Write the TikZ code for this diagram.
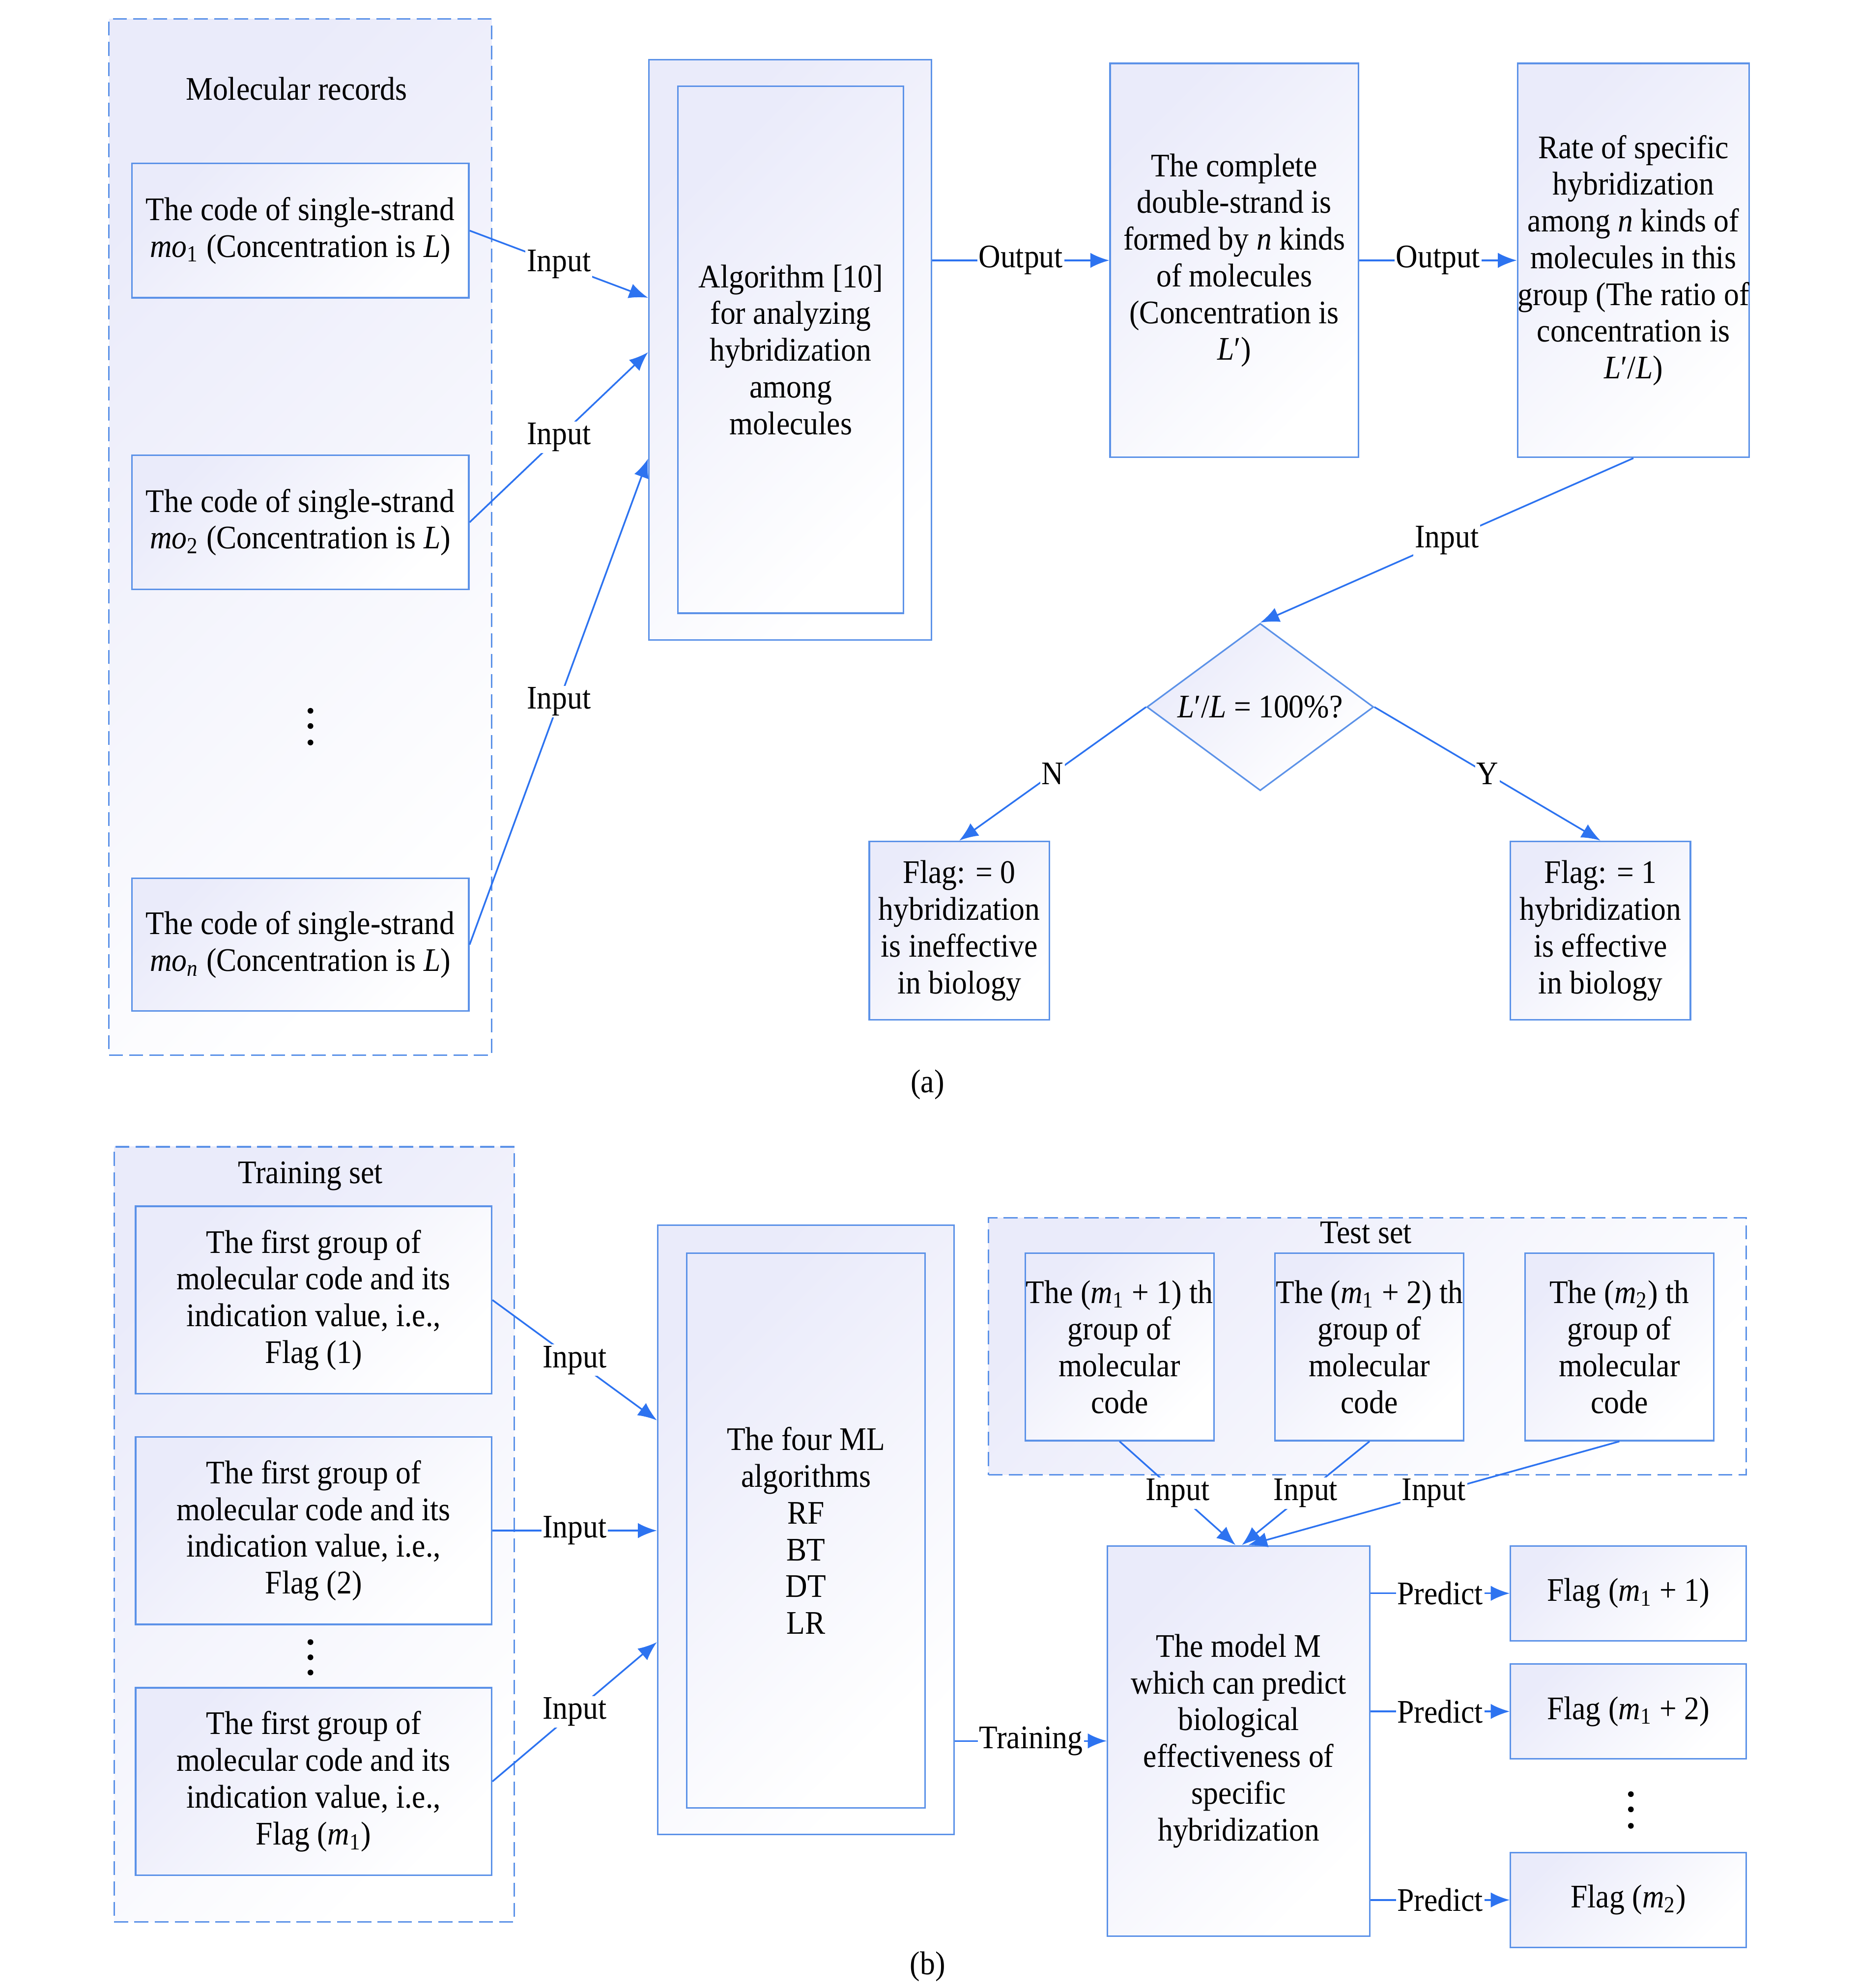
\documentclass[tikz,border=0pt]{standalone}
\usepackage{fontspec}
\setmainfont{Liberation Serif}[FakeStretch=0.92]
\usepackage{xcolor}
\usepackage{tikz}
\usetikzlibrary{positioning,shapes.geometric,arrows.meta}
\definecolor{boxline}{RGB}{92,146,232}
\definecolor{arrowblue}{RGB}{45,115,240}
\definecolor{boxfill}{RGB}{234,235,250}

\begin{document}
\begin{tikzpicture}[x=0.02cm, y=-0.02cm, font={\fontsize{14.8}{16.5}\selectfont}]
            \tikzstyle{groupbox} = [draw=boxline, line width=0.7pt, dash pattern=on 0.22cm off 0.1cm, top color=boxfill, bottom color=white, shading angle=45, inner sep=0]
            \tikzstyle{codebox} = [draw=boxline, line width=0.7pt, top color=boxfill, bottom color=white, shading angle=45, inner sep=0, align=center]
            \tikzstyle{decision} = [codebox, diamond, aspect=1.36]
            \tikzstyle{link} = [draw=arrowblue, line width=0.75pt, -{Latex[length=0.3cm,width=0.24cm]}]
            \tikzstyle{arrowtext} = [fill=white, inner sep=0.6pt, midway]
            \useasboundingbox (0,0) rectangle (1466,1569);

            \node [groupbox, minimum width=6.04cm, minimum height=16.36cm] (records) at (237,424) {};
            \node (recordstitle) at (234,70) {Molecular records};
            \node [codebox, minimum width=5.32cm, minimum height=2.12cm] (mo1) at (237,182) {The code of single-strand\\\textit{mo}\textsubscript{1} (Concentration is \textit{L})};
            \node [codebox, minimum width=5.32cm, minimum height=2.12cm, below = 2.46cm of mo1] (mo2) {The code of single-strand\\\textit{mo}\textsubscript{2} (Concentration is \textit{L})};
            \node [codebox, minimum width=5.32cm, minimum height=2.1cm] (mon) at (237,745.5) {The code of single-strand\\\textit{mo}\textsubscript{\textit{n}} (Concentration is \textit{L})};
            \foreach \y in {561,573,586} \fill (245,\y) circle (0.045cm);

            \node [codebox, minimum width=4.46cm, minimum height=9.16cm] (algo) at (623.5,276) {};
            \node [codebox, minimum width=3.56cm, minimum height=8.32cm] (algoin) at (624,276) {Algorithm [10]\\for analyzing\\hybridization\\among\\molecules};

            \node [codebox, minimum width=3.92cm, minimum height=6.22cm] (comp) at (974,205.5) {The complete\\double-strand is\\formed by \textit{n} kinds\\of molecules\\(Concentration is\\\textit{L}′)};
            \node [codebox, minimum width=3.56cm, minimum height=6.22cm] (rate) at (1289,205.5) {Rate of specific\\hybridization\\among \textit{n} kinds of\\molecules in this\\group (The ratio of\\concentration is\\\textit{L}′/\textit{L})};

            \node [decision, minimum width=3.58cm, minimum height=2.64cm] (check) at (994.5,558) {\textit{L}′/\textit{L} = 100\%?};
            \node [codebox, minimum width=2.84cm, minimum height=2.82cm] (flag0) at (757,734.5) {Flag: = 0\\hybridization\\is ineffective\\in biology};
            \node [codebox, minimum width=2.84cm, minimum height=2.82cm] (flag1) at (1263,734.5) {Flag: = 1\\hybridization\\is effective\\in biology};
            \node (capa) at (732,856) {(a)};

            \draw [link] (mo1.east) -- node [arrowtext] {Input} (algo.west |- 0,235);
            \draw [link] (mo2.east) -- node [arrowtext] {Input} (algo.west |- 0,278);
            \draw [link] (mon.east) -- node [arrowtext] {Input} (algo.west |- 0,362);
            \draw [link] (algo.east |- comp.west) -- node [arrowtext] {Output} (comp.west);
            \draw [link] (comp.east) -- node [arrowtext] {Output} (rate.west);
            \draw [link] (rate.south) -- node [arrowtext] {Input} (check.north);
            \draw [link] (check.west) -- node [arrowtext] {N} (flag0.north);
            \draw [link] (check.east) -- node [arrowtext] {Y} (flag1.north);

            \node [groupbox, minimum width=6.32cm, minimum height=12.24cm] (training) at (248,1211) {};
            \node (trainingtitle) at (245,928) {Training set};
            \node [codebox, minimum width=5.62cm, minimum height=2.96cm] (g1) at (247.5,1026) {The first group of\\molecular code and its\\indication value, i.e.,\\Flag (1)};
            \node [codebox, minimum width=5.62cm, minimum height=2.96cm] (g2) at (247.5,1208) {The first group of\\molecular code and its\\indication value, i.e.,\\Flag (2)};
            \node [codebox, minimum width=5.62cm, minimum height=2.96cm] (g3) at (247.5,1406) {The first group of\\molecular code and its\\indication value, i.e.,\\Flag (\textit{m}\textsubscript{1})};
            \foreach \y in {1296,1308,1320} \fill (245,\y) circle (0.045cm);

            \node [codebox, minimum width=4.68cm, minimum height=9.62cm] (ml) at (636,1207.5) {};
            \node [codebox, minimum width=3.76cm, minimum height=8.76cm] (mlin) at (636,1208) {The four ML\\algorithms\\RF\\BT\\DT\\LR};

            \node [groupbox, minimum width=11.96cm, minimum height=4.06cm] (testing) at (1079,1062.5) {};
            \node (testingtitle) at (1078,973) {Test set};
            \node [codebox, minimum width=2.98cm, minimum height=2.96cm] (t1) at (883.5,1063) {The (\textit{m}\textsubscript{1} + 1) th\\group of\\molecular\\code};
            \node [codebox, minimum width=2.98cm, minimum height=2.96cm, right = 0.94cm of t1] (t2) {The (\textit{m}\textsubscript{1} + 2) th\\group of\\molecular\\code};
            \node [codebox, minimum width=2.98cm, minimum height=2.96cm, right = 0.94cm of t2] (t3) {The (\textit{m}\textsubscript{2}) th\\group of\\molecular\\code};

            \node [codebox, minimum width=4.14cm, minimum height=6.16cm] (model) at (977.5,1374) {The model M\\which can predict\\biological\\effectiveness of\\specific\\hybridization};
            \node [codebox, minimum width=3.72cm, minimum height=1.5cm] (f1) at (1285,1257.5) {Flag (\textit{m}\textsubscript{1} + 1)};
            \node [codebox, minimum width=3.72cm, minimum height=1.5cm, below = 0.34cm of f1] (f2) {Flag (\textit{m}\textsubscript{1} + 2)};
            \node [codebox, minimum width=3.72cm, minimum height=1.5cm] (f3) at (1285,1499.5) {Flag (\textit{m}\textsubscript{2})};
            \foreach \y in {1416,1428,1441} \fill (1287,\y) circle (0.045cm);
            \node (capb) at (732,1552) {(b)};

            \draw [link] (g1.east) -- node [arrowtext] {Input} (ml.west |- 0,1121);
            \draw [link] (g2.east) -- node [arrowtext] {Input} (ml.west |- g2.east);
            \draw [link] (g3.east) -- node [arrowtext] {Input} (ml.west |- 0,1296);
            \draw [link] (ml.east |- model.west) -- node [arrowtext] {Training} (model.west);
            \draw [link] (t1.south) -- node [arrowtext] {Input} (model.north -| 975,0);
            \draw [link] (t2.south) -- node [arrowtext] {Input} (model.north -| 980,0);
            \draw [link] (t3.south) -- node [arrowtext] {Input} (model.north -| 985,0);
            \draw [link] (model.east |- f1.west) -- node [arrowtext] {Predict} (f1.west);
            \draw [link] (model.east |- f2.west) -- node [arrowtext] {Predict} (f2.west);
            \draw [link] (model.east |- f3.west) -- node [arrowtext] {Predict} (f3.west);
        \end{tikzpicture}
\end{document}
